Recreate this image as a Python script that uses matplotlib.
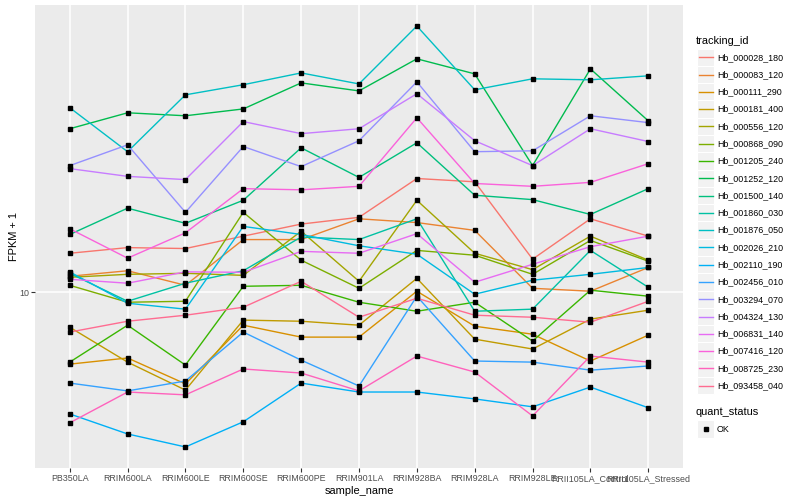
import numpy as np
import matplotlib.pyplot as plt
from matplotlib.patches import Rectangle
from matplotlib.lines import Line2D
from matplotlib.ticker import NullLocator

plt.rcParams['font.family'] = ['Liberation Sans', 'DejaVu Sans']

samples = ['PB350LA', 'RRIM600LA', 'RRIM600LE', 'RRIM600SE', 'RRIM600PE', 'RRIM901LA',
           'RRIM928BA', 'RRIM928LA', 'RRIM928LE', 'RRII105LA_Control', 'RRII105LA_Stressed']

tracking_ids = ['Hb_000028_180', 'Hb_000083_120', 'Hb_000111_290', 'Hb_000181_400', 'Hb_000556_120',
                'Hb_000868_090', 'Hb_001205_240', 'Hb_001252_120', 'Hb_001500_140', 'Hb_001860_030',
                'Hb_001876_050', 'Hb_002026_210', 'Hb_002110_190', 'Hb_002456_010', 'Hb_003294_070',
                'Hb_004324_130', 'Hb_006831_140', 'Hb_007416_120', 'Hb_008725_230', 'Hb_093458_040']

# FPKM + 1 per sample
hb_000028_180 = [13.5, 14.1, 14.0, 15.4, 16.9, 17.8, 24.0, 23.4, 12.9, 17.6, 15.4]
hb_000083_120 = [11.31, 11.8, 10.55, 15.0, 15.0, 17.6, 17.1, 16.1, 10.31, 10.08, 12.1]
hb_000111_290 = [5.75, 6.03, 4.94, 7.76, 7.08, 7.08, 10.08, 7.70, 7.24, 5.89, 7.19]
hb_000181_400 = [7.64, 5.84, 4.71, 8.07, 8.00, 7.76, 11.13, 6.97, 6.46, 8.13, 8.71]
hb_000556_120 = [11.22, 11.48, 11.57, 11.39, 16.0, 10.88, 20.3, 13.5, 11.9, 15.4, 12.8]
hb_000868_090 = [10.55, 9.26, 9.33, 18.5, 12.8, 10.31, 13.8, 13.3, 11.48, 14.9, 12.7]
hb_001205_240 = [5.84, 7.76, 5.71, 10.47, 10.55, 9.26, 8.64, 9.26, 6.87, 10.16, 9.70]
hb_001252_120 = [35.2, 39.8, 38.9, 41.0, 50.1, 47.1, 60.3, 53.7, 26.5, 55.8, 37.4]
hb_001500_140 = [15.6, 19.1, 17.0, 20.3, 30.4, 24.2, 31.6, 21.1, 20.4, 18.2, 22.2]
hb_001860_030 = [11.57, 9.33, 10.72, 11.8, 15.3, 15.0, 17.6, 8.64, 8.78, 13.8, 10.39]
hb_001876_050 = [41.4, 29.5, 45.7, 49.4, 54.1, 49.7, 77.6, 47.5, 51.7, 51.3, 52.9]
hb_002026_210 = [11.7, 9.19, 8.78, 16.6, 15.6, 14.3, 13.4, 9.85, 10.97, 11.48, 12.1]
hb_002110_190 = [3.92, 3.36, 3.04, 3.69, 4.97, 4.64, 4.64, 4.40, 4.14, 4.82, 4.11]
hb_002456_010 = [4.97, 4.68, 5.05, 7.36, 5.93, 4.86, 9.70, 5.89, 5.84, 5.49, 5.67]
hb_003294_070 = [26.5, 31.1, 18.5, 30.7, 26.3, 32.1, 50.5, 29.5, 29.7, 38.9, 36.9]
hb_004324_130 = [25.9, 24.4, 23.8, 37.2, 33.9, 35.2, 46.1, 32.1, 26.5, 35.2, 31.9]
hb_006831_140 = [11.05, 10.72, 11.7, 11.66, 13.7, 13.5, 15.7, 10.80, 12.4, 14.2, 15.4]
hb_007416_120 = [16.3, 13.0, 15.8, 22.2, 22.0, 22.6, 38.3, 23.1, 22.6, 23.3, 26.9]
hb_008725_230 = [3.66, 4.64, 4.54, 5.54, 5.37, 4.68, 6.12, 5.41, 3.86, 6.12, 5.84]
hb_093458_040 = [7.36, 8.00, 8.38, 8.91, 10.88, 8.25, 9.55, 8.38, 8.25, 7.94, 9.33]

series = [hb_000028_180, hb_000083_120, hb_000111_290, hb_000181_400, hb_000556_120,
          hb_000868_090, hb_001205_240, hb_001252_120, hb_001500_140, hb_001860_030,
          hb_001876_050, hb_002026_210, hb_002110_190, hb_002456_010, hb_003294_070,
          hb_004324_130, hb_006831_140, hb_007416_120, hb_008725_230, hb_093458_040]

# ggplot hue palette, 20 levels
colors = ['#F8766D', '#EA8331', '#D89000', '#C09B00', '#A3A500', '#7CAE00', '#39B600', '#00BB4E',
          '#00BF7D', '#00C1A3', '#00BFC4', '#00BAE0', '#00B0F6', '#35A2FF', '#9590FF', '#C77CFF',
          '#E76BF3', '#FA62DB', '#FF62BC', '#FF6C91']

W, H = 800, 500
def fx(x):
    return x / W
def fy(y):
    return 1 - y / H

fig = plt.figure(figsize=(8, 5), dpi=100)
ax = fig.add_axes([fx(35), fy(468), (683 - 35) / W, (468 - 5) / H])
ax.set_facecolor('#EBEBEB')

x = np.arange(len(samples))
for vals, col in zip(series, colors):
    ax.plot(x, vals, color=col, lw=1.0, zorder=2)
for vals in series:
    ax.plot(x, vals, ls='none', marker='s', ms=2.6, color='black', zorder=3)

ax.set_yscale('log')
allv = np.log10(np.concatenate([np.array(s) for s in series]))
lo, hi = allv.min(), allv.max()
pad = (hi - lo) * 0.05
ax.set_ylim(10 ** (lo - pad), 10 ** (hi + pad))
ax.set_xlim(-0.6, len(samples) - 0.4)
ax.set_yticks([10])
ax.set_yticklabels(['10'])
ax.yaxis.set_minor_locator(NullLocator())
ax.set_xticks(x)
ax.set_xticklabels(samples)

ax.grid(True, color='white', lw=1.1, zorder=0)
ax.set_axisbelow(True)
for s in ax.spines.values():
    s.set_visible(False)
ax.tick_params(axis='both', length=2.7, width=0.8, color='#333333', labelcolor='#4D4D4D',
               labelsize=6.4, pad=1.5)

ax.set_xlabel('sample_name', fontsize=7.9, labelpad=2)
ax.set_ylabel('FPKM + 1', fontsize=7.9, labelpad=0)

# legend: tracking_id
fig.text(fx(696), fy(40.7), 'tracking_id', fontsize=7.9, va='center', ha='left')
step = 17.28
for i, (tid, col) in enumerate(zip(tracking_ids, colors)):
    yc = 57.3 + step * i
    fig.patches.append(Rectangle((fx(697), fy(yc + step / 2)), step / W, step / H,
                                 transform=fig.transFigure, facecolor='#F2F2F2',
                                 edgecolor='white', lw=0.8))
    fig.lines.append(Line2D([fx(698.5), fx(712.5)], [fy(yc), fy(yc)], transform=fig.transFigure,
                            color=col, lw=1.0))
    fig.text(fx(717), fy(yc), tid, fontsize=6.4, va='center', ha='left')

# legend: quant_status
fig.text(fx(696), fy(412), 'quant_status', fontsize=7.9, va='center', ha='left')
fig.patches.append(Rectangle((fx(697), fy(429 + step / 2)), step / W, step / H,
                             transform=fig.transFigure, facecolor='#F2F2F2',
                             edgecolor='white', lw=0.8))
fig.lines.append(Line2D([fx(705.6)], [fy(429)], transform=fig.transFigure, ls='none',
                        marker='s', ms=2.6, color='black'))
fig.text(fx(717), fy(429), 'OK', fontsize=6.4, va='center', ha='left')

fig.savefig('out.png', dpi=100)
